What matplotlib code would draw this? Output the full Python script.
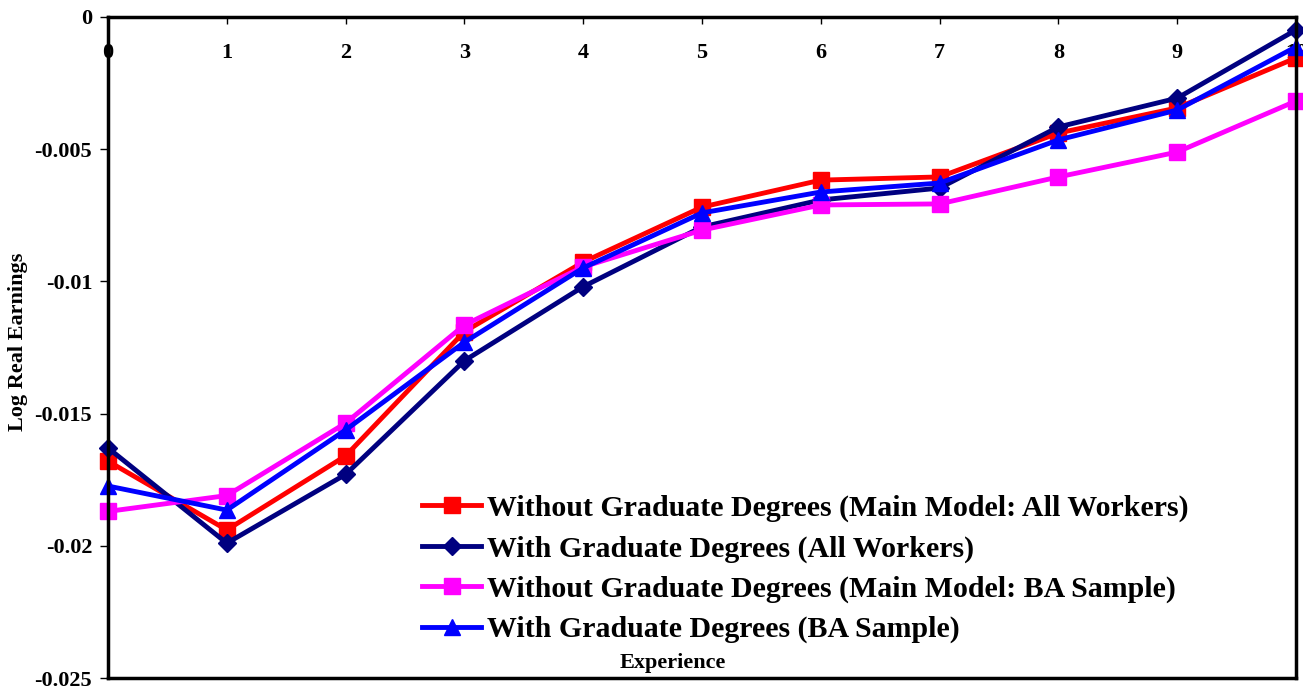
import matplotlib.pyplot as plt
import numpy as np

experience = [0, 1, 2, 3, 4, 5, 6, 7, 8, 9, 10]

# log real earnings by years of experience
noGradAll = [-0.0168, -0.0194, -0.0166, -0.0119, -0.00927, -0.00719, -0.00617, -0.00605, -0.00439, -0.00344, -0.00155]
gradAll = [-0.0163, -0.0199, -0.0173, -0.0130, -0.0102, -0.00794, -0.00692, -0.00647, -0.00416, -0.00307, -0.00049]
noGradBA = [-0.0187, -0.0181, -0.01536, -0.01165, -0.00945, -0.00806, -0.00711, -0.00707, -0.00605, -0.00511, -0.00318]
gradBA = [-0.01774, -0.01865, -0.01562, -0.0123, -0.00949, -0.00741, -0.00662, -0.00628, -0.00465, -0.00352, -0.00113]

labels = ["Without Graduate Degrees (Main Model: All Workers)",
          "With Graduate Degrees (All Workers)",
          "Without Graduate Degrees (Main Model: BA Sample)",
          "With Graduate Degrees (BA Sample)"]

yTicks = [0, -0.005, -0.01, -0.015, -0.02, -0.025]
yTickLabels = ["0", "-0.005", "-0.01", "-0.015", "-0.02", "-0.025"]

plt.rcParams['font.family'] = ['Liberation Serif', 'DejaVu Serif']
plt.rcParams['font.weight'] = 'bold'

fig = plt.figure(figsize=(13.03, 6.87), dpi=100)
ax = fig.add_axes([0.0829, 0.0131, 0.9117, 0.9622])

series = [
    (noGradAll, '#FF0000', 's', 11),
    (gradAll, '#000080', 'D', 9),
    (noGradBA, '#FF00FF', 's', 11),
    (gradBA, '#0000FF', '^', 12),
]
for (vals, col, mk, ms), lab in zip(series, labels):
    ax.plot(experience, vals, color=col, marker=mk, markersize=ms,
            linewidth=3.5, label=lab, clip_on=False)

ax.set_xlim(0, 10)
ax.set_ylim(-0.025, 0)
ax.set_yticks(yTicks)
ax.set_yticklabels(yTickLabels, fontsize=16, fontweight='bold')
ax.set_xticks(experience)
ax.set_xticklabels([str(x) for x in experience], fontsize=16, fontweight='bold')

ax.tick_params(axis='x', top=True, bottom=False, labeltop=True, labelbottom=False,
               direction='in', length=5, width=1, pad=-33)
ax.tick_params(axis='y', direction='out', length=6, width=1, pad=5.4)

for sp in ax.spines.values():
    sp.set_linewidth(2.5)

ax.set_ylabel("Log Real Earnings", fontsize=16, fontweight='bold')
ax.yaxis.set_label_coords(-0.067, 0.509)
ax.text(0.4756, 0.0227, "Experience", transform=ax.transAxes, fontsize=16,
        fontweight='bold', ha='center', va='center')

ax.legend(loc='center left', bbox_to_anchor=(0.324, 0.1716),
          bbox_transform=fig.transFigure, frameon=False, borderpad=0,
          borderaxespad=0, prop={'size': 21.5, 'weight': 'bold'},
          handlelength=1.97, handletextpad=0.2, labelspacing=0.44)

fig.savefig("out.png", dpi=100)
